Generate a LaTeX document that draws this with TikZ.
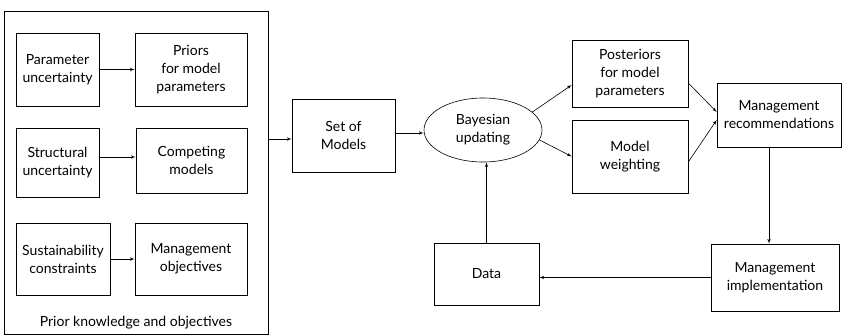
\documentclass[tikz,border=0pt]{standalone}
\usepackage{fontspec}
\setmainfont{Lato}
\usepackage{tikz}
\usetikzlibrary{arrows,positioning,shapes.geometric}
\tikzset{font=\fontsize{14}{18}\selectfont}
\tikzset{box/.style={draw,line width=0.6pt,align=center,inner sep=0pt},
         flow/.style={-latex',line width=0.6pt}}

\begin{document}
\begin{tikzpicture}[x=1pt,y=-1pt]
  \useasboundingbox (0,0) rectangle (842,335);
  % prior knowledge panel
  \node[box,minimum width=263.5,minimum height=323.5] (prior) at (136.25,173) {};
  \node (priorlbl) at (136,323) {Prior knowledge and objectives};
  \node[box,minimum width=83,minimum height=73] (param) at (57.5,69.5) {Parameter\\uncertainty};
  \node[box,minimum width=112,minimum height=73] (priors) at (191,69.5) {Priors\\for model\\parameters};
  \node[box,minimum width=83,minimum height=69] (struct) at (57.5,162.5) {Structural\\uncertainty};
  \node[box,minimum width=111,minimum height=65] (compete) at (191.5,160.5) {Competing\\models};
  \node[box,minimum width=94,minimum height=72] (sustain) at (63,259) {Sustainability\\constraints};
  \node[box,minimum width=112,minimum height=72] (mobj) at (191,259) {Management\\objectives};
  \draw[flow] (param) -- (priors);
  \draw[flow] ([yshift=5.5pt]struct.east) -- ([yshift=5.5pt]struct.east -| compete.west);
  \draw[flow] (sustain) -- (mobj);

  % updating loop
  \node[box,minimum width=103,minimum height=73] (setm) at (343.5,135.5) {Set of\\Models};
  \node[box,ellipse,minimum width=118,minimum height=64] (bayes) at (483,130) {Bayesian\\updating};
  \node[box,minimum width=116,minimum height=67] (post) at (630,73.5) {Posteriors\\for model\\parameters};
  \node[box,minimum width=116,minimum height=73] (mweight) at (630,156.5) {Model\\weighting};
  \node[box,minimum width=124,minimum height=64] (mrec) at (779,115) {Management\\recommendations};
  \node[box,minimum width=128,minimum height=67] (mimpl) at (775,277.5) {Management\\implementation};
  \node[box,minimum width=105,minimum height=62] (data) at (486.5,274) {Data};

  \draw[flow] ([yshift=-3.5pt]prior.east |- setm.west) -- ([yshift=-3.5pt]setm.west);
  \draw[flow] ([yshift=2.5pt]setm.east) -- ([yshift=2.5pt]setm.east -| bayes.west);
  \draw[flow] (bayes.20) -- ([yshift=-11.5pt]post.west);
  \draw[flow] (bayes.-10) -- (mweight.west);
  \draw[flow] ([yshift=-9.5pt]post.east) -- ([yshift=3pt]mrec.west);
  \draw[flow] ([yshift=-5.5pt]mweight.east) -- ([yshift=-5pt]mrec.west);
  \draw[flow] ([xshift=-10pt]mrec.south) -- ([xshift=-10pt]mrec.south |- mimpl.north);
  \draw[flow] (mimpl.west) -- (data.east |- mimpl.west);
  \draw[flow] (data.north) -- (data.north |- bayes.south);
\end{tikzpicture}
\end{document}
